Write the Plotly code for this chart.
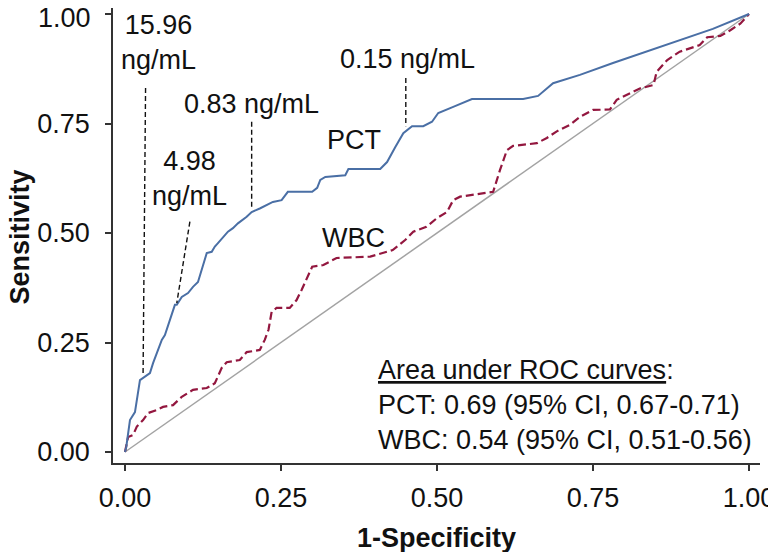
import plotly.graph_objects as go

# ROC curve points (false positive rate, true positive rate)
pct_fpr = [0, 0.002, 0.008, 0.016, 0.024, 0.029, 0.040, 0.045, 0.051, 0.059,
           0.064, 0.072, 0.080, 0.083, 0.091, 0.101, 0.109, 0.117, 0.123, 0.131,
           0.139, 0.144, 0.149, 0.165, 0.173, 0.181, 0.195, 0.203, 0.216, 0.227,
           0.237, 0.251, 0.261, 0.300, 0.308, 0.313, 0.321, 0.353, 0.358, 0.409,
           0.420, 0.433, 0.446, 0.460, 0.478, 0.492, 0.502, 0.526, 0.556, 0.638,
           0.662, 0.686, 0.729, 0.782, 0.836, 0.889, 0.942, 1.0]
pct_tpr = [0, 0.011, 0.073, 0.091, 0.164, 0.169, 0.180, 0.203, 0.228, 0.256,
           0.267, 0.301, 0.336, 0.336, 0.354, 0.363, 0.377, 0.388, 0.416, 0.454,
           0.457, 0.469, 0.477, 0.503, 0.511, 0.522, 0.537, 0.548, 0.556, 0.564,
           0.571, 0.575, 0.594, 0.594, 0.603, 0.621, 0.628, 0.632, 0.646, 0.646,
           0.662, 0.696, 0.728, 0.744, 0.744, 0.754, 0.774, 0.788, 0.806, 0.806,
           0.813, 0.842, 0.861, 0.888, 0.914, 0.941, 0.966, 1.0]

wbc_fpr = [0, 0.005, 0.013, 0.019, 0.029, 0.037, 0.051, 0.061, 0.077, 0.091,
           0.109, 0.131, 0.144, 0.155, 0.163, 0.184, 0.195, 0.216, 0.224, 0.230,
           0.235, 0.243, 0.264, 0.275, 0.283, 0.300, 0.318, 0.339, 0.393, 0.429,
           0.449, 0.462, 0.483, 0.500, 0.516, 0.526, 0.537, 0.590, 0.601, 0.612,
           0.622, 0.660, 0.676, 0.692, 0.713, 0.729, 0.750, 0.777, 0.788, 0.809,
           0.825, 0.847, 0.852, 0.869, 0.889, 0.921, 0.933, 0.954, 0.970, 0.986, 1.0]
wbc_tpr = [0, 0.034, 0.039, 0.058, 0.073, 0.089, 0.096, 0.103, 0.107, 0.126,
           0.142, 0.146, 0.157, 0.192, 0.205, 0.210, 0.228, 0.233, 0.256, 0.279,
           0.320, 0.329, 0.329, 0.347, 0.370, 0.423, 0.427, 0.443, 0.446, 0.461,
           0.484, 0.503, 0.514, 0.534, 0.548, 0.575, 0.583, 0.594, 0.644, 0.689,
           0.699, 0.705, 0.717, 0.732, 0.747, 0.765, 0.781, 0.782, 0.804, 0.819,
           0.830, 0.838, 0.868, 0.895, 0.914, 0.929, 0.947, 0.950, 0.963, 0.978, 1.0]

# PCT cut-off labels and their leader lines (x0, y0, x1, y1)
cutoff_labels = ["15.96<br>ng/mL", "4.98<br>ng/mL", "0.83 ng/mL", "0.15 ng/mL"]
cutoff_label_x = [0.054, 0.104, 0.203, 0.452]
cutoff_label_y = [0.936, 0.624, 0.795, 0.897]
cutoff_lines = [(0.033, 0.831, 0.029, 0.180),
                (0.104, 0.526, 0.083, 0.340),
                (0.203, 0.754, 0.203, 0.560),
                (0.450, 0.854, 0.450, 0.744)]

auc_text = ["<u>Area under ROC curves</u>:",
            "PCT: 0.69 (95% CI, 0.67-0.71)",
            "WBC: 0.54 (95% CI, 0.51-0.56)"]

tick_vals = [0, 0.25, 0.5, 0.75, 1.0]
tick_text = ["0.00", "0.25", "0.50", "0.75", "1.00"]

FONT = "Liberation Sans, Arial, Helvetica, sans-serif"
FS = 27
BLUE = "#4a6fa5"
RED = "#93173f"

fig = go.Figure()

# reference diagonal
fig.add_trace(go.Scatter(x=[0, 1], y=[0, 1], mode="lines",
                         line=dict(color="#a3a3a3", width=1.5), hoverinfo="skip"))

fig.add_trace(go.Scatter(x=wbc_fpr, y=wbc_tpr, mode="lines", name="WBC",
                         line=dict(color=RED, width=2.2, dash="8px,4px")))
fig.add_trace(go.Scatter(x=pct_fpr, y=pct_tpr, mode="lines", name="PCT",
                         line=dict(color=BLUE, width=2)))

for x0, y0, x1, y1 in cutoff_lines:
    fig.add_trace(go.Scatter(x=[x0, x1], y=[y0, y1], mode="lines",
                             line=dict(color="#111111", width=1.4, dash="5px,3px"),
                             hoverinfo="skip"))

for txt, x, y in zip(cutoff_labels, cutoff_label_x, cutoff_label_y):
    fig.add_annotation(x=x, y=y, text=txt, showarrow=False,
                       font=dict(size=FS, color="#111111"), align="center")

fig.add_annotation(x=0.367, y=0.712, text="PCT", showarrow=False,
                   font=dict(size=FS, color="#111111"))
fig.add_annotation(x=0.366, y=0.489, text="WBC", showarrow=False,
                   font=dict(size=FS, color="#111111"))

fig.add_annotation(x=0.403, y=0.107, text="<br>".join(auc_text), showarrow=False,
                   xanchor="left", yanchor="middle", align="left",
                   font=dict(size=FS, color="#111111"))

# the top y tick label sits right at the page edge: draw it nudged down a little
y_ticktext = tick_text[:-1] + [""]
fig.add_annotation(xref="paper", x=0, xanchor="right", xshift=-20,
                   y=tick_vals[-1], yanchor="middle", yshift=-4,
                   text=tick_text[-1], showarrow=False,
                   font=dict(size=FS, color="#111111"))

# axis titles
fig.add_annotation(xref="paper", yref="paper", x=0.5, y=0, yshift=-75,
                   xanchor="center", yanchor="middle",
                   text="<b>1-Specificity</b>", showarrow=False,
                   font=dict(size=FS, color="#111111"))
fig.add_annotation(xref="paper", yref="paper", x=0, y=0.5, xshift=-94, yshift=-2,
                   xanchor="center", yanchor="middle", textangle=-90,
                   text="<b>Sensitivity</b>", showarrow=False,
                   font=dict(size=FS, color="#111111"))

axis_common = dict(
    tickvals=tick_vals, showgrid=False, zeroline=False,
    showline=True, linecolor="#333333", linewidth=1.6,
    ticks="outside", ticklen=6, tickwidth=1.6, tickcolor="#333333",
    tickfont=dict(size=FS, color="#111111"), automargin=False,
    ticklabeloverflow="allow",
)

# page body adds an 8px offset, so the figure is 8px smaller than the window
fig.update_layout(
    width=768, height=544,
    margin=dict(l=105, r=16, t=0, b=89, autoexpand=False),
    paper_bgcolor="white", plot_bgcolor="white",
    showlegend=False,
    font=dict(family=FONT, color="#111111"),
    xaxis=dict(range=[-0.0192, 1.0176], ticklabelstandoff=4, ticktext=tick_text,
               **axis_common),
    yaxis=dict(range=[-0.0251, 1.0137], ticklabelstandoff=10, ticktext=y_ticktext,
               **axis_common),
)

fig.write_html("out.html")
